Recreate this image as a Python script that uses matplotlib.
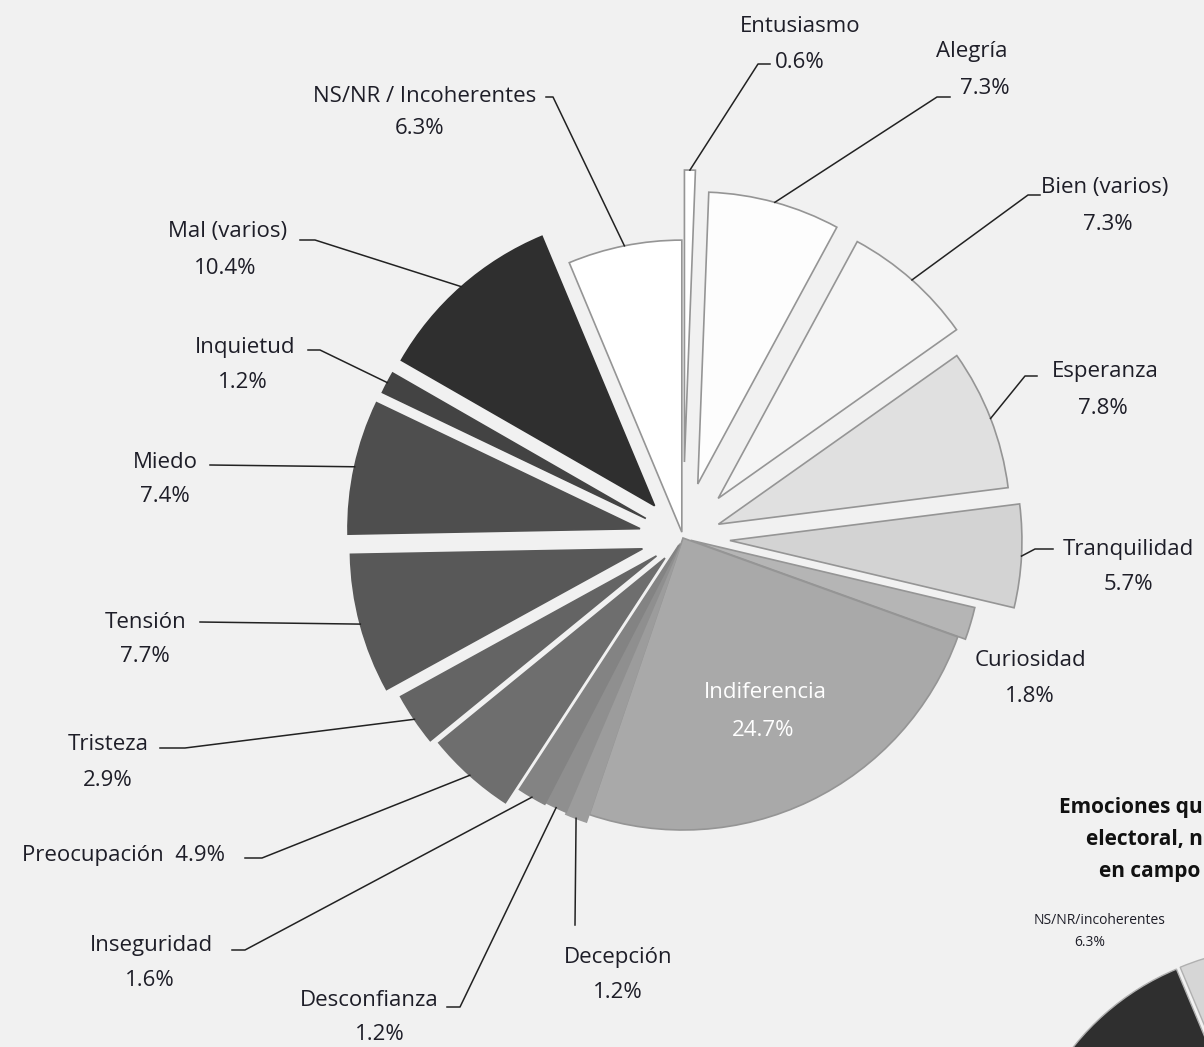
import numpy as np
import matplotlib.pyplot as plt

# datos del grafico
categorias = ["Entusiasmo", "Alegría", "Bien (varios)", "Esperanza", "Tranquilidad",
              "Curiosidad", "Indiferencia", "Decepción", "Desconfianza", "Inseguridad",
              "Preocupación", "Tristeza", "Tensión", "Miedo", "Inquietud",
              "Mal (varios)", "NS/NR / Incoherentes"]
porcentajes = [0.6, 7.3, 7.3, 7.8, 5.7, 1.8, 24.7, 1.2, 1.2, 1.6, 4.9, 2.9, 7.7, 7.4, 1.2, 10.4, 6.3]

# estilo
grises = ["#ffffff", "#fdfdfd", "#f5f5f5", "#e0e0e0", "#d3d3d3", "#b5b5b5", "#a9a9a9",
          "#9c9c9c", "#8f8f8f", "#838383", "#6e6e6e", "#646464", "#585858", "#4e4e4e",
          "#434343", "#2f2f2f", "#ffffff"]
grises2 = grises[:-1] + ["#d6d6d6"]
separacion_px = [76, 56, 53, 38, 47, 8, 0, 8, 6, 8, 27, 32, 42, 44, 42, 43, 6]

centro = (683, 538)
radio = 292

# posiciones de etiquetas (nombre, porcentaje) en pixeles
pos_nombre = [(800, 27), (972, 52), (1105, 188), (1105, 372), (1128, 549),
              (1030, 660), (765, 693), (618, 957), (369, 1000), (151, 945),
              (None, None), (108, 745), (146, 622), (165, 462), (245, 347),
              (228, 232), (425, 96)]
pos_pct = [(800, 62), (985, 88), (1108, 224), (1103, 408), (1128, 585),
           (1030, 696), (763, 730), (618, 992), (380, 1034), (150, 980),
           (None, None), (108, 780), (145, 657), (165, 497), (243, 382),
           (225, 268), (420, 129)]
# inicio de las lineas guia (punto junto al texto, punto del codo)
guia = {0: [(770, 64), (758, 64)], 1: [(950, 97), (937, 97)], 2: [(1040, 195), (1028, 195)],
        3: [(1037, 376), (1025, 376)], 4: [(1053, 549), (1035, 549)],
        7: [(575, 925)], 8: [(447, 1007), (460, 1007)], 9: [(232, 950), (245, 950)],
        10: [(245, 858), (262, 858)], 11: [(160, 748), (185, 748)],
        12: [(200, 622)], 13: [(210, 465)], 14: [(308, 350), (320, 350)],
        15: [(300, 240), (315, 240)], 16: [(546, 97), (553, 97)]}

fuente = ["Open Sans", "DejaVu Sans"]
color_txt = "#1e1e28"
fondo = "#f1f1f1"

fig = plt.figure(figsize=(12.04, 10.47), dpi=100, facecolor=fondo)
ax = fig.add_axes([0, 0, 1, 1])
ax.set_facecolor(fondo)

# explode en unidades de datos (pixeles); eje y invertido -> sentido horario
wedges, _ = ax.pie(porcentajes, colors=grises, explode=separacion_px, startangle=270,
                   counterclock=True, center=centro, radius=radio,
                   wedgeprops=dict(linewidth=1.2))
for w, c in zip(wedges, grises):
    if int(c[1:3], 16) > 0xa0:
        w.set_edgecolor("#959595")
    else:
        w.set_edgecolor(c)

# segundo grafico (recortado) abajo a la derecha
ax.pie(porcentajes, colors=grises2, explode=[8] * len(porcentajes), startangle=270,
       counterclock=True, center=(1282, 1215), radius=260,
       wedgeprops=dict(linewidth=1.0, edgecolor="#b0b0b0"))

ax.set_xlim(0, 1204)
ax.set_ylim(1047, 0)
ax.set_aspect("equal")
ax.axis("off")

# textos y lineas guia
total = sum(porcentajes)
acum = np.cumsum([0] + porcentajes)
for i, (nom, val) in enumerate(zip(categorias, porcentajes)):
    pct = f"{val:.1f}%"
    col = "white" if nom == "Indiferencia" else color_txt
    if nom == "Preocupación":
        ax.text(124, 855, nom + "  " + pct, ha="center", va="center", fontsize=16,
                color=col, family=fuente)
    else:
        ax.text(*pos_nombre[i], nom, ha="center", va="center", fontsize=16,
                color=col, family=fuente)
        ax.text(*pos_pct[i], pct, ha="center", va="center", fontsize=16,
                color=col, family=fuente)
    if i in guia:
        ang = np.deg2rad(270 + 360 * (acum[i] + acum[i + 1]) / 2 / total)
        r = radio + separacion_px[i]
        fin = (centro[0] + r * np.cos(ang), centro[1] + r * np.sin(ang))
        pts = guia[i] + [fin]
        ax.plot([p[0] for p in pts], [p[1] for p in pts], color="#222222", lw=1.1)

# titulo del segundo grafico (solo la parte visible)
ax.text(1203, 808, "Emociones qu", ha="right", va="center", fontsize=15,
        fontweight="bold", color="#111111", family=fuente)
ax.text(1203, 840, "electoral, n", ha="right", va="center", fontsize=15,
        fontweight="bold", color="#111111", family=fuente)
ax.text(1200, 872, "en campo", ha="right", va="center", fontsize=15,
        fontweight="bold", color="#111111", family=fuente)
ax.text(1100, 921, "NS/NR/incoherentes", ha="center", va="center", fontsize=10,
        color=color_txt, family=fuente)
ax.text(1090, 942, "6.3%", ha="center", va="center", fontsize=10,
        color=color_txt, family=fuente)

fig.savefig("out.png", dpi=100, facecolor=fondo)
